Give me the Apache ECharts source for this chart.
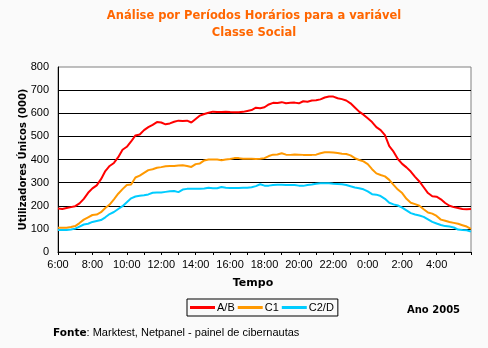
<!DOCTYPE html>
<html><head><meta charset="utf-8">
<script src="https://cdn.jsdelivr.net/npm/echarts@6/dist/echarts.min.js"></script>
<style>html,body{margin:0;padding:0;background:#fafafa;}#c{width:488px;height:348px;}</style>
</head><body><div id="c"></div>
<script>
// hours since 6:00, every 15 minutes
const hourLabels = ['6:00','7:00','8:00','9:00','10:00','11:00','12:00','13:00','14:00','15:00','16:00','17:00','18:00','19:00','20:00','21:00','22:00','23:00','0:00','1:00','2:00','3:00','4:00','5:00','6:00'];
const seriesNames = ['A/B','C1','C2/D'];
const AB = [188,186,190,194,198,210,230,256,275,288,315,350,372,385,410,442,455,478,504,508,527,540,550,562,560,552,556,563,568,566,568,560,575,590,597,602,607,605,605,607,605,604,604,606,610,614,624,622,626,638,645,644,648,643,645,646,643,652,650,655,656,660,668,672,672,665,661,655,643,625,607,594,578,562,540,527,505,458,434,402,381,366,348,325,305,280,255,241,239,228,212,200,194,190,186,185,186];
const C1 = [105,105,105,108,112,125,140,150,160,162,172,190,205,228,252,272,290,292,322,330,342,354,358,364,367,371,372,372,374,375,372,368,380,383,396,400,400,400,397,400,402,406,406,403,403,403,402,403,406,415,421,422,427,421,420,422,421,420,420,420,421,427,431,431,430,428,425,424,418,406,398,392,380,358,340,333,327,312,290,270,255,230,213,207,200,185,171,166,156,140,135,130,126,122,116,110,100];
const C2D = [95,95,95,97,101,110,119,122,130,134,138,150,164,173,186,198,215,232,240,243,245,249,256,257,257,260,263,264,259,270,273,274,274,274,275,278,276,276,281,278,277,277,277,278,278,280,285,293,287,287,290,291,291,290,290,290,287,286,290,292,295,297,297,297,295,294,293,290,284,279,276,271,262,250,248,242,230,213,206,201,192,180,168,162,158,152,141,130,123,117,112,110,106,97,95,94,88];
const stepHours = 0.25;

function toPairs(arr){ return arr.map((v,i)=>[i*stepHours, v]); }

const chart = echarts.init(document.getElementById('c'), null, {renderer:'canvas'});
const F = 'Liberation Sans, Arial, sans-serif';
const TF = 'DejaVu Sans, Verdana, sans-serif';
chart.setOption({
  backgroundColor:'#fafafa',
  animation:false,
  title:{
    text:'Análise por Períodos Horários para a variável\nClasse Social',
    left:249, top:3, textAlign:'center',
    textStyle:{color:'#ff6600', fontFamily:TF, fontWeight:'bold', fontSize:11.5, lineHeight:17}
  },
  grid:{left:58, right:17, top:67, bottom:96, show:true, backgroundColor:'#ffffff', borderColor:'#808080', borderWidth:1},
  xAxis:{
    type:'value', min:0, max:24, interval:1,
    axisLine:{lineStyle:{color:'#000', width:1}},
    axisTick:{show:true, length:3, lineStyle:{color:'#000'}},
    splitLine:{show:false},
    axisLabel:{color:'#000', fontFamily:F, fontSize:11, margin:7,
      formatter:(v)=> (v%2===0 && v<24) ? hourLabels[v] : ''},
  },
  yAxis:{
    type:'value', min:0, max:800, interval:100,
    axisLine:{show:true, lineStyle:{color:'#000', width:1}},
    axisTick:{show:false},
    splitLine:{show:true, showMaxLine:false, lineStyle:{color:'#000', width:1}},
    axisLabel:{color:'#000', fontFamily:F, fontSize:11, margin:9},
    name:'Utilizadores Únicos (000)', nameLocation:'middle', nameGap:30, nameRotate:90,
    nameMoveOverlap:false,
    nameTextStyle:{color:'#000', fontFamily:TF, fontWeight:'bold', fontSize:10}
  },
  legend:{
    data:seriesNames, left:187, top:299, orient:'horizontal',
    icon:'rect', itemWidth:25, itemHeight:3, itemGap:3,
    borderColor:'#000', borderWidth:1, padding:[3,4,3,3],
    textStyle:{color:'#000', fontFamily:F, fontSize:11, padding:[0,0,0,-3]}
  },
  graphic:[
    {type:'text', style:{text:'Tempo', x:253, y:283, textAlign:'center', textVerticalAlign:'middle', fill:'#000', font:'bold 11px '+TF}},
    {type:'text', style:{text:'Ano 2005', x:407, y:310, textVerticalAlign:'middle', fill:'#000', font:'bold 10px '+TF}},
    {type:'text', style:{x:53, y:333, textVerticalAlign:'middle',
      rich:{b:{fontFamily:TF, fontWeight:'bold', fontSize:10.5, fill:'#000'}, n:{fontFamily:F, fontSize:11, fill:'#000'}},
      text:'{b|Fonte}{n|: Marktest, Netpanel - painel de cibernautas}'}}
  ],
  series:[
    {name:'A/B', type:'line', data:toPairs(AB), showSymbol:false, symbol:'none', lineStyle:{color:'#ff0000', width:2}, itemStyle:{color:'#ff0000'}},
    {name:'C1', type:'line', data:toPairs(C1), showSymbol:false, symbol:'none', lineStyle:{color:'#ff9900', width:2}, itemStyle:{color:'#ff9900'}},
    {name:'C2/D', type:'line', data:toPairs(C2D), showSymbol:false, symbol:'none', lineStyle:{color:'#00ccff', width:2}, itemStyle:{color:'#00ccff'}}
  ]
});
</script></body></html>
